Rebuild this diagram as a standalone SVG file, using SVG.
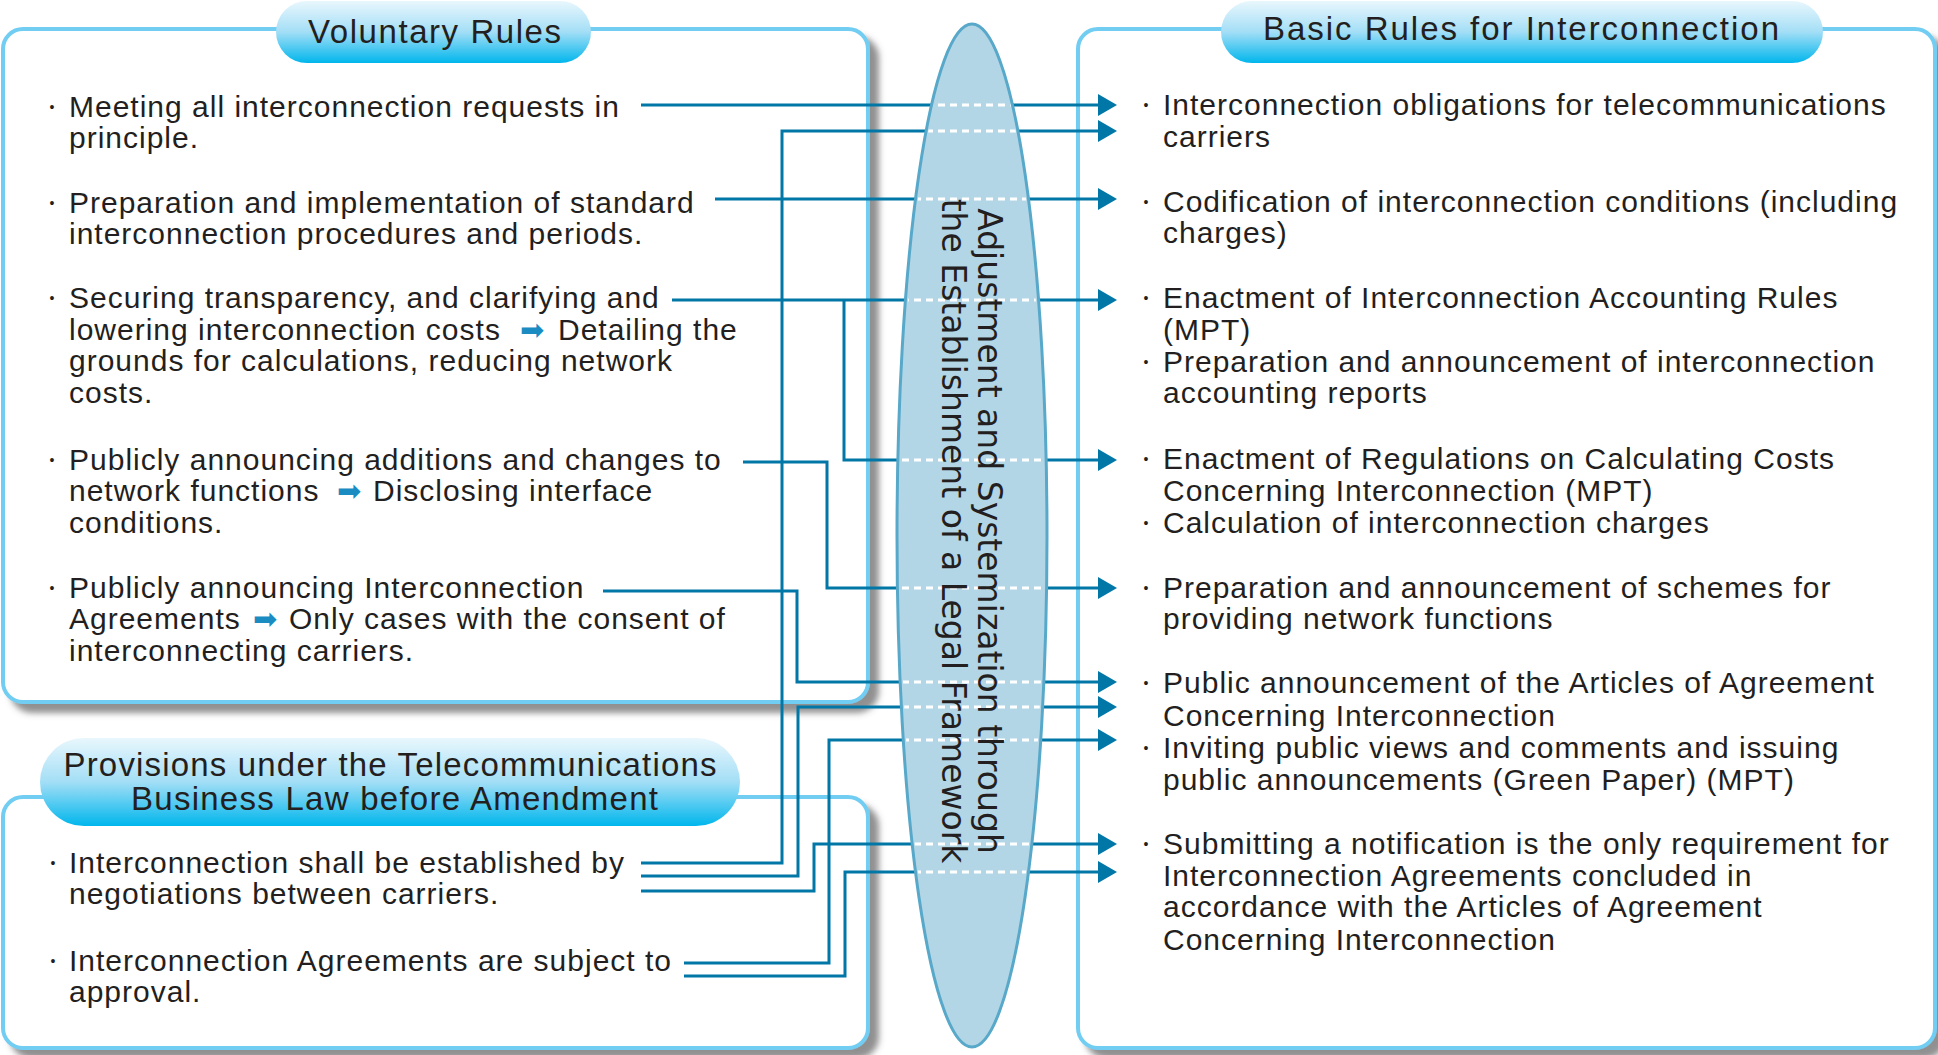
<svg xmlns="http://www.w3.org/2000/svg" width="1938" height="1055" viewBox="0 0 1938 1055">
<style>
.box{fill:#fff;stroke:#72cdf2;stroke-width:4}
.pill{fill:url(#pg)}
.t{font-family:"Liberation Sans",Arial,sans-serif;font-size:30px;letter-spacing:1px;fill:#231f20}
.b{font-family:"Liberation Sans",Arial,sans-serif;font-size:14px;fill:#231f20;text-anchor:middle}
.h{font-family:"Liberation Sans",Arial,sans-serif;font-size:33px;fill:#231f20;text-anchor:middle}
.v{font-family:"DejaVu Sans",sans-serif;font-size:33px;fill:#231f20;text-anchor:middle}
.ar{font-family:"DejaVu Sans",sans-serif;font-size:29px;fill:#1a8cc2;letter-spacing:0}
.c{fill:none;stroke:#0077a6;stroke-width:3;marker-end:url(#ah)}
.d{stroke:#fff;stroke-width:3;stroke-dasharray:7 5}
</style>
<defs>
<linearGradient id="pg" x1="0" y1="0" x2="0" y2="1">
<stop offset="0" stop-color="#e9f7fd"/>
<stop offset="0.5" stop-color="#a3def6"/>
<stop offset="1" stop-color="#00b6ec"/>
</linearGradient>
<filter id="sh" x="-5%" y="-5%" width="115%" height="115%">
<feDropShadow dx="9" dy="9" stdDeviation="3" flood-color="#555" flood-opacity="0.65"/>
</filter>
<marker id="ah" markerUnits="userSpaceOnUse" markerWidth="20" markerHeight="22" refX="0" refY="11" orient="auto" viewBox="0 0 20 22">
<path d="M0,0 L19,11 L0,22 z" fill="#0077a6"/>
</marker>
<clipPath id="ec"><ellipse cx="972" cy="535.5" rx="72" ry="509"/></clipPath>
</defs>

<g id="voluntary-rules">
<rect class="box" x="3" y="29" width="865" height="673" rx="20" filter="url(#sh)"/>
<rect class="pill" x="276" y="1" width="315" height="62" rx="31"/>
<text class="h" x="434.5" y="43" textLength="253" lengthAdjust="spacing">Voluntary Rules</text>
<text class="b" x="52" y="112">•</text>
<text class="t" x="69" y="117">Meeting all interconnection requests in</text>
<text class="t" x="69" y="148">principle.</text>
<text class="b" x="52" y="208">•</text>
<text class="t" x="69" y="213">Preparation and implementation of standard</text>
<text class="t" x="69" y="244">interconnection procedures and periods.</text>
<text class="b" x="52" y="303">•</text>
<text class="t" x="69" y="308">Securing transparency, and clarifying and</text>
<text class="t" x="69" y="340">lowering interconnection costs <tspan class="ar" x="520">➡</tspan><tspan x="558">Detailing the</tspan></text>
<text class="t" x="69" y="371">grounds for calculations, reducing network</text>
<text class="t" x="69" y="403">costs.</text>
<text class="b" x="52" y="465">•</text>
<text class="t" x="69" y="470">Publicly announcing additions and changes to</text>
<text class="t" x="69" y="501">network functions <tspan class="ar" x="337">➡</tspan><tspan x="373">Disclosing interface</tspan></text>
<text class="t" x="69" y="533">conditions.</text>
<text class="b" x="52" y="593">•</text>
<text class="t" x="69" y="598">Publicly announcing Interconnection</text>
<text class="t" x="69" y="629">Agreements <tspan class="ar" x="253">➡</tspan><tspan x="289">Only cases with the consent of</tspan></text>
<text class="t" x="69" y="661">interconnecting carriers.</text>
</g>

<g id="provisions-before-amendment">
<rect class="box" x="3" y="797" width="865" height="251" rx="20" filter="url(#sh)"/>
<rect class="pill" x="40" y="738" width="700" height="88" rx="44"/>
<text class="h" x="390" y="776" textLength="653" lengthAdjust="spacing">Provisions under the Telecommunications</text>
<text class="h" x="394.5" y="810" textLength="527" lengthAdjust="spacing">Business Law before Amendment</text>
<text class="b" x="53" y="868">•</text>
<text class="t" x="69" y="873">Interconnection shall be established by</text>
<text class="t" x="69" y="904">negotiations between carriers.</text>
<text class="b" x="53" y="966">•</text>
<text class="t" x="69" y="971">Interconnection Agreements are subject to</text>
<text class="t" x="69" y="1002">approval.</text>
</g>

<g id="basic-rules">
<rect class="box" x="1078" y="29" width="857" height="1019" rx="20" filter="url(#sh)"/>
<rect class="pill" x="1221" y="1" width="602" height="62" rx="31"/>
<text class="h" x="1521" y="40" textLength="516" lengthAdjust="spacing">Basic Rules for Interconnection</text>
<text class="b" x="1146" y="110">•</text>
<text class="t" x="1163" y="115">Interconnection obligations for telecommunications</text>
<text class="t" x="1163" y="147">carriers</text>
<text class="b" x="1146" y="207">•</text>
<text class="t" x="1163" y="212">Codification of interconnection conditions (including</text>
<text class="t" x="1163" y="243">charges)</text>
<text class="b" x="1146" y="303">•</text>
<text class="t" x="1163" y="308">Enactment of Interconnection Accounting Rules</text>
<text class="t" x="1163" y="340">(MPT)</text>
<text class="b" x="1146" y="367">•</text>
<text class="t" x="1163" y="372">Preparation and announcement of interconnection</text>
<text class="t" x="1163" y="403">accounting reports</text>
<text class="b" x="1146" y="464">•</text>
<text class="t" x="1163" y="469">Enactment of Regulations on Calculating Costs</text>
<text class="t" x="1163" y="501">Concerning Interconnection (MPT)</text>
<text class="b" x="1146" y="528">•</text>
<text class="t" x="1163" y="533">Calculation of interconnection charges</text>
<text class="b" x="1146" y="593">•</text>
<text class="t" x="1163" y="598">Preparation and announcement of schemes for</text>
<text class="t" x="1163" y="629">providing network functions</text>
<text class="b" x="1146" y="688">•</text>
<text class="t" x="1163" y="693">Public announcement of the Articles of Agreement</text>
<text class="t" x="1163" y="726">Concerning Interconnection</text>
<text class="b" x="1146" y="753">•</text>
<text class="t" x="1163" y="758">Inviting public views and comments and issuing</text>
<text class="t" x="1163" y="790">public announcements (Green Paper) (MPT)</text>
<text class="b" x="1146" y="849">•</text>
<text class="t" x="1163" y="854">Submitting a notification is the only requirement for</text>
<text class="t" x="1163" y="886">Interconnection Agreements concluded in</text>
<text class="t" x="1163" y="917">accordance with the Articles of Agreement</text>
<text class="t" x="1163" y="950">Concerning Interconnection</text>
</g>

<g id="connectors">
<path class="c" d="M641,105 H1098"/>
<path class="c" d="M715,199 H1098"/>
<path class="c" d="M672,300 H1098"/>
<path class="c" d="M844,300 V460 H1098"/>
<path class="c" d="M743,462 H827 V588 H1098"/>
<path class="c" d="M603,591 H797 V682 H1098"/>
<path class="c" d="M641,863 H782 V131 H1098"/>
<path class="c" d="M641,876 H798 V707 H1098"/>
<path class="c" d="M641,891 H814 V844 H1098"/>
<path class="c" d="M684,963 H829 V740 H1098"/>
<path class="c" d="M684,976 H845 V872 H1098"/>
</g>

<g id="legal-framework">
<ellipse cx="972" cy="535.5" rx="75" ry="511.5" fill="#b3d6e7" stroke="#58a8c9" stroke-width="3"/>
<g clip-path="url(#ec)">
<line class="d" x1="890" y1="105" x2="1055" y2="105"/>
<line class="d" x1="890" y1="131" x2="1055" y2="131"/>
<line class="d" x1="890" y1="199" x2="1055" y2="199"/>
<line class="d" x1="890" y1="300" x2="1055" y2="300"/>
<line class="d" x1="890" y1="460" x2="1055" y2="460"/>
<line class="d" x1="890" y1="588" x2="1055" y2="588"/>
<line class="d" x1="890" y1="682" x2="1055" y2="682"/>
<line class="d" x1="890" y1="707" x2="1055" y2="707"/>
<line class="d" x1="890" y1="740" x2="1055" y2="740"/>
<line class="d" x1="890" y1="844" x2="1055" y2="844"/>
<line class="d" x1="890" y1="872" x2="1055" y2="872"/>
</g>
<g transform="translate(960,531) rotate(90)">
<text class="v" x="0" y="-18">Adjustment and Systemization through</text>
<text class="v" x="0" y="18">the Establishment of a Legal Framework</text>
</g>
</g>
</svg>
